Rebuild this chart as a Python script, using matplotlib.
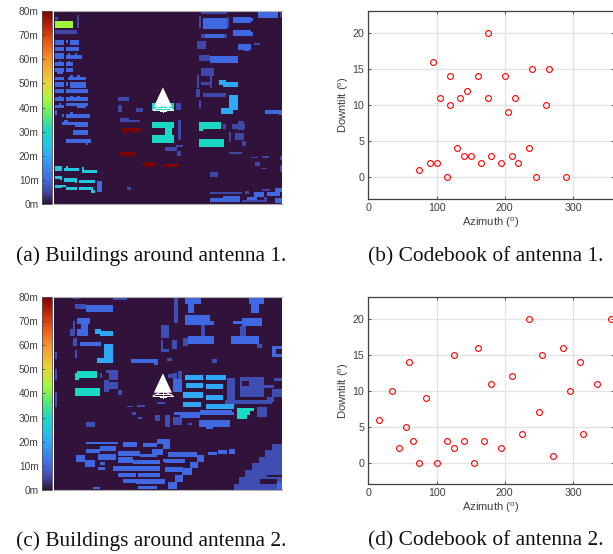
import numpy as np
import matplotlib
matplotlib.use("Agg")
import matplotlib.pyplot as plt
from matplotlib.colors import LinearSegmentedColormap

plt.rcParams['font.family'] = ['Liberation Sans', 'DejaVu Sans']
plt.rcParams['mathtext.default'] = 'regular'

# colorbar stops (height in m, colour)
cmap_heights = [0, 5, 10, 20, 25, 30, 36, 43, 50, 58, 66, 73, 80]
cmap_colors = ['#30123b', '#3f48a8', '#4169e1', '#2fa8f8', '#22c8e0', '#19d8c8', '#50e878',
               '#a0f83c', '#e8d838', '#f8a030', '#f06018', '#c82808', '#7a0403']

height_ticks = [0, 10, 20, 30, 40, 50, 60, 70, 80]
height_labels = ['0m', '10m', '20m', '30m', '40m', '50m', '60m', '70m', '80m']

# codebooks
azimuth_1 = [75, 90, 100, 115, 130, 140, 150, 165, 180, 195, 210, 220, 235, 245, 290,
             205, 260, 120, 105, 135, 175, 215, 145, 120, 160, 200, 240, 265, 95, 175]
downtilt_1 = [1, 2, 2, 0, 4, 3, 3, 2, 3, 2, 3, 2, 4, 0, 0,
              9, 10, 10, 11, 11, 11, 11, 12, 14, 14, 14, 15, 15, 16, 20]
azimuth_2 = [15, 35, 45, 55, 60, 65, 75, 85, 100, 115, 125, 125, 140, 155, 160,
             170, 180, 195, 210, 225, 235, 250, 255, 270, 285, 295, 310, 315, 335, 355]
downtilt_2 = [6, 10, 2, 5, 14, 3, 0, 9, 0, 3, 2, 15, 3, 0, 16,
              3, 11, 2, 12, 4, 20, 7, 15, 1, 16, 10, 14, 4, 11, 20]

# buildings: x0, x1, y0, y1 (map pixels, y down), grouped by height
a_green = [(167, 219, 62, 84)]
a_red = [(367, 427, 383, 393), (372, 380, 393, 403), (393, 414, 393, 399), (360, 407, 457, 467),
         (400, 407, 467, 472), (428, 468, 486, 502), (489, 536, 491, 502)]
a_teal = [(455, 522, 308, 330), (455, 522, 366, 383), (495, 517, 383, 405), (455, 522, 405, 428),
          (597, 664, 366, 387), (597, 610, 387, 394), (597, 671, 418, 440)]
a_cyan = [(167, 188, 498, 514), (192, 239, 504, 514), (198, 205, 498, 504), (246, 293, 509, 520),
          (246, 252, 502, 509), (167, 188, 527, 537), (181, 188, 537, 541), (192, 232, 533, 545),
          (225, 232, 545, 549), (239, 287, 539, 550), (167, 188, 555, 565), (198, 232, 561, 571),
          (181, 198, 555, 561), (239, 280, 561, 571), (273, 287, 571, 578)]
a_light = [(685, 712, 285, 330), (664, 698, 325, 343), (657, 677, 240, 255), (670, 712, 247, 262)]
a_blue = [(167, 192, 119, 136), (198, 205, 119, 130), (212, 239, 119, 136), (167, 192, 142, 153),
          (198, 239, 142, 153), (167, 192, 160, 177), (198, 246, 165, 177), (205, 212, 158, 165),
          (225, 232, 158, 165), (167, 192, 187, 198), (178, 185, 182, 187), (198, 219, 187, 198),
          (205, 212, 182, 187), (167, 192, 205, 215), (172, 190, 215, 222), (198, 219, 205, 215),
          (167, 192, 230, 240), (205, 260, 232, 240), (212, 219, 225, 232), (232, 240, 225, 232),
          (167, 192, 247, 260), (198, 205, 247, 258), (212, 260, 247, 263), (167, 192, 267, 280),
          (198, 266, 267, 280), (167, 192, 291, 302), (178, 185, 287, 291), (198, 266, 291, 302),
          (212, 219, 287, 291), (232, 240, 287, 291), (167, 192, 315, 325), (178, 185, 308, 315),
          (198, 266, 308, 318), (232, 260, 318, 325), (167, 172, 331, 346), (186, 192, 342, 352),
          (198, 272, 342, 353), (212, 219, 337, 342), (186, 232, 365, 375), (192, 205, 360, 365),
          (225, 266, 365, 382), (219, 266, 389, 405), (198, 273, 418, 428), (259, 266, 428, 435),
          (293, 307, 543, 576), (610, 680, 55, 88), (616, 672, 103, 114), (698, 752, 50, 68),
          (752, 758, 55, 62), (698, 752, 90, 107), (752, 758, 97, 107), (772, 834, 37, 55),
          (712, 752, 131, 150), (732, 745, 150, 154), (630, 712, 168, 188), (793, 845, 330, 343),
          (835, 845, 343, 345), (630, 700, 595, 607), (670, 718, 588, 607), (760, 790, 575, 590),
          (740, 770, 590, 600), (800, 840, 575, 587), (825, 845, 565, 575), (825, 845, 595, 610)]
a_dim = [(233, 239, 45, 84), (167, 232, 91, 101), (167, 175, 52, 60), (382, 393, 561, 571),
         (354, 387, 291, 302), (354, 367, 315, 336), (408, 430, 325, 335), (360, 387, 354, 365),
         (387, 420, 361, 366), (529, 542, 308, 331), (535, 542, 360, 421), (496, 530, 442, 452),
         (530, 542, 452, 468), (528, 548, 434, 440), (670, 677, 372, 388), (712, 730, 362, 390),
         (695, 735, 372, 388), (685, 692, 395, 425), (705, 730, 398, 420), (725, 738, 423, 438),
         (685, 725, 455, 462), (752, 772, 470, 474), (786, 806, 468, 473), (765, 778, 486, 497),
         (783, 800, 503, 507), (840, 845, 468, 480), (840, 845, 495, 515), (630, 655, 515, 530),
         (630, 725, 577, 583), (735, 745, 572, 582), (725, 790, 600, 606), (786, 810, 567, 572),
         (790, 800, 590, 605), (603, 680, 37, 43), (597, 603, 48, 85), (680, 685, 50, 85),
         (603, 680, 103, 114), (840, 845, 37, 50), (590, 617, 124, 148), (760, 778, 130, 135),
         (597, 630, 165, 182), (603, 643, 205, 228), (590, 597, 225, 264), (603, 636, 245, 255),
         (630, 636, 228, 265), (587, 600, 267, 290), (610, 677, 280, 290), (597, 603, 300, 325)]

c_teal = [(232, 293, 275, 297), (226, 238, 281, 303), (226, 300, 327, 349), (711, 760, 384, 394),
          (711, 750, 394, 406), (711, 740, 406, 416)]
c_light = [(286, 305, 149, 163), (300, 340, 155, 171), (313, 340, 195, 250), (293, 327, 235, 250),
           (555, 610, 288, 302), (617, 677, 288, 302), (557, 610, 310, 325), (617, 670, 315, 330),
           (550, 610, 338, 355), (617, 670, 345, 360), (550, 603, 365, 382), (617, 700, 372, 388)]
c_blue = [(258, 340, 78, 97), (232, 272, 115, 135), (232, 265, 150, 170), (245, 265, 135, 150),
          (240, 305, 188, 200), (394, 475, 240, 252), (462, 475, 252, 257), (555, 603, 55, 75),
          (563, 583, 75, 100), (555, 630, 107, 137), (630, 643, 125, 137), (563, 643, 170, 195),
          (745, 790, 55, 73), (752, 775, 73, 100), (725, 785, 115, 140), (698, 725, 125, 135),
          (691, 775, 170, 195), (815, 826, 200, 232), (826, 845, 200, 208), (826, 845, 225, 232),
          (523, 700, 395, 405), (540, 600, 395, 415), (600, 695, 390, 405), (597, 690, 420, 440),
          (617, 640, 430, 447), (258, 355, 486, 492), (300, 347, 498, 514), (260, 300, 506, 518),
          (295, 347, 521, 541), (228, 255, 525, 545), (255, 285, 540, 560), (300, 315, 546, 554),
          (295, 315, 561, 571), (340, 480, 558, 572), (355, 420, 514, 528), (355, 400, 531, 548),
          (400, 480, 541, 551), (355, 408, 578, 590), (415, 480, 579, 590), (368, 408, 596, 608),
          (408, 495, 598, 612), (415, 470, 618, 628), (368, 410, 486, 502), (430, 470, 488, 501),
          (470, 510, 476, 491), (420, 470, 521, 531), (455, 490, 506, 526), (490, 510, 491, 506),
          (490, 510, 536, 546), (505, 590, 516, 531), (625, 650, 516, 526), (655, 680, 511, 521),
          (685, 703, 506, 521), (495, 555, 536, 548), (495, 550, 561, 576), (590, 612, 525, 545),
          (570, 595, 545, 565), (545, 575, 565, 585), (525, 550, 585, 605), (505, 530, 605, 628),
          (280, 300, 620, 628), (830, 845, 607, 628), (520, 545, 300, 340)]
c_dim = [(225, 258, 73, 90), (220, 245, 55, 57), (340, 380, 55, 61), (220, 226, 125, 150),
         (212, 226, 150, 170), (220, 232, 177, 200), (226, 232, 212, 235), (300, 307, 280, 297),
         (320, 355, 271, 280), (327, 355, 280, 303), (314, 327, 303, 337), (327, 355, 309, 330),
         (355, 367, 332, 345), (167, 171, 217, 240), (167, 171, 270, 303), (167, 171, 340, 380),
         (482, 508, 137, 177), (482, 490, 183, 217), (490, 508, 210, 217), (500, 515, 235, 245),
         (523, 535, 57, 130), (515, 530, 183, 210), (550, 563, 177, 200), (603, 615, 137, 170),
         (720, 738, 140, 170), (770, 785, 195, 205), (635, 650, 240, 250), (679, 705, 297, 375),
         (718, 790, 292, 350), (790, 820, 318, 326), (820, 845, 295, 305), (675, 815, 360, 372),
         (505, 520, 285, 297), (520, 530, 280, 300), (535, 545, 275, 300), (380, 400, 378, 382),
         (410, 435, 375, 382), (395, 407, 395, 405), (415, 427, 412, 416), (470, 495, 365, 372),
         (465, 480, 405, 422), (495, 510, 405, 440), (520, 545, 412, 435), (565, 575, 430, 435),
         (258, 287, 425, 440), (815, 845, 330, 350), (800, 820, 350, 365), (770, 800, 380, 410),
         (700, 845, 612, 630), (715, 845, 590, 612), (735, 845, 570, 590), (755, 845, 550, 570),
         (775, 845, 530, 550), (795, 845, 510, 530), (815, 845, 492, 510)]
c_holes = [(780, 830, 598, 612), (800, 845, 585, 590), (725, 745, 305, 320)]

# tower outline relative to its tip
tower_x = [0, -27, 27]
tower_y = [0, 58, 58]
lattice_x = [[-30, 30], [-24, 24], [-16, 16], [-30, 0], [30, 0], [-8, 8], [0, 0]]
lattice_y = [[68, 68], [62, 62], [52, 52], [68, 52], [68, 52], [72, 72], [50, 74]]

NX, NY = 228, 193
X0, X1 = 163, 845


def rasterize(groups, y0, y1):
    # fill the height grid group by group
    grid = np.zeros((NY, NX))
    sx = NX / (X1 - X0)
    sy = NY / (y1 - y0)
    for h, rects in groups:
        for r in rects:
            i0 = int(round((r[0] - X0) * sx))
            i1 = max(i0 + 1, int(round((r[1] - X0) * sx)))
            j0 = int(round((r[2] - y0) * sy))
            j1 = max(j0 + 1, int(round((r[3] - y0) * sy)))
            grid[j0:j1, i0:i1] = h
    return grid


def draw_map(fig, box, cbox, groups, y0, y1, tip):
    W, H = fig.get_size_inches() * fig.dpi
    ax = fig.add_axes([box[0] / W, 1 - box[3] / H, (box[1] - box[0]) / W, (box[3] - box[2]) / H])
    im = ax.imshow(rasterize(groups, y0, y1), cmap=building_cmap, vmin=0, vmax=80,
                   extent=(X0, X1, y1, y0), aspect='auto', interpolation='nearest')
    ax.set_xticks([])
    ax.set_yticks([])
    for s in ['left', 'right']:
        ax.spines[s].set_visible(False)
    for s in ['top', 'bottom']:
        ax.spines[s].set_color('#b0b0b0')
        ax.spines[s].set_linewidth(0.8)
    ax.fill([tip[0] + v for v in tower_x], [tip[1] + v for v in tower_y], color='white', lw=0)
    for lx, ly in zip(lattice_x, lattice_y):
        ax.plot([tip[0] + v for v in lx], [tip[1] + v for v in ly], color='white', lw=0.7)
    ax.set_xlim(X0, X1)
    ax.set_ylim(y1, y0)

    cax = fig.add_axes([cbox[0] / W, 1 - box[3] / H, (cbox[1] - cbox[0]) / W, (box[3] - box[2]) / H])
    cb = fig.colorbar(im, cax=cax)
    cb.set_ticks(height_ticks)
    cb.set_ticklabels(height_labels)
    cax.yaxis.set_ticks_position('left')
    cax.tick_params(direction='in', length=2, width=0.5, color='#404040', labelsize=7.3,
                    labelcolor='#404040', pad=2.5)
    cb.outline.set_edgecolor('#505050')
    cb.outline.set_linewidth(0.6)


def draw_codebook(fig, box, az, tilt):
    W, H = fig.get_size_inches() * fig.dpi
    ax = fig.add_axes([box[0] / W, 1 - box[3] / H, (box[1] - box[0]) / W, (box[3] - box[2]) / H])
    ax.plot(az, tilt, 'o', mfc='none', mec='red', ms=4.2, mew=0.8, clip_on=True, zorder=3)
    ax.set_xlim(0, 360)
    ax.set_ylim(-3, 23)
    ax.set_xticks([0, 100, 200, 300])
    ax.set_yticks([0, 5, 10, 15, 20])
    ax.grid(True, color='#e4e4e4', lw=1.0)
    ax.set_axisbelow(True)
    ax.tick_params(direction='in', length=2.5, width=0.6, color='#404040', labelsize=7.7,
                   labelcolor='#404040', pad=3, top=True, right=True)
    ax.set_xlabel('Azimuth ($^o$)', fontsize=8.1, color='#404040', labelpad=1.5)
    ax.set_ylabel('Downtilt ($^o$)', fontsize=8.1, color='#404040', labelpad=1)
    for s in ax.spines.values():
        s.set_color('#404040')
        s.set_linewidth(0.9)


building_cmap = LinearSegmentedColormap.from_list(
    'buildings', [(h / 80, c) for h, c in zip(cmap_heights, cmap_colors)], N=256)

fig = plt.figure(figsize=(6.13, 5.54), dpi=100)

groups_a = [(5, a_dim), (10, a_blue), (20, a_light), (25, a_cyan), (30, a_teal), (43, a_green), (80, a_red)]
groups_c = [(6, c_dim), (10, c_blue), (20, c_light), (30, c_teal), (0, c_holes)]

draw_map(fig, (54.5, 282, 11, 204), (42, 52), groups_a, 33, 612, (488, 262))
draw_map(fig, (54.5, 282, 296.7, 490), (42, 52), groups_c, 50, 630, (488, 280))
draw_codebook(fig, (368.3, 614, 11, 199), azimuth_1, downtilt_1)
draw_codebook(fig, (368.3, 614, 297.3, 484.3), azimuth_2, downtilt_2)

captions = ['(a) Buildings around antenna 1.', '(b) Codebook of antenna 1.',
            '(c) Buildings around antenna 2.', '(d) Codebook of antenna 2.']
caption_x = [151, 486, 151, 486]
caption_y = [256.5, 256.5, 541, 541]
for t, cx, cy in zip(captions, caption_x, caption_y):
    fig.text(cx / 613, 1 - cy / 554, t, ha='center', va='center', fontsize=15.4,
             family=['Liberation Serif', 'DejaVu Serif'], color='#111111')

fig.savefig('out.png', dpi=100)
